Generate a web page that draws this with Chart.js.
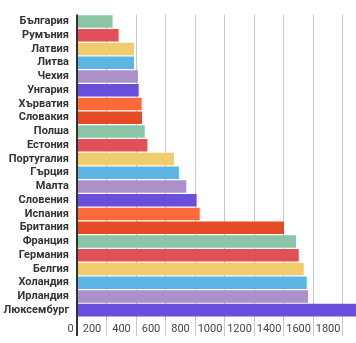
<!DOCTYPE html>
<html>
<head>
<meta charset="utf-8">
<script src="https://cdn.jsdelivr.net/npm/chart.js@4.4.1/dist/chart.umd.min.js"></script>
<style>
    body { margin: 0; background: #fff; }
    #chart { display: block; }
</style>
</head>
<body>
<canvas id="chart" width="356" height="343"></canvas>
<script>
// Countries, top to bottom
const countries = ['България', 'Румъния', 'Латвия', 'Литва', 'Чехия', 'Унгария', 'Хърватия', 'Словакия',
    'Полша', 'Естония', 'Португалия', 'Гърция', 'Малта', 'Словения', 'Испания', 'Британия',
    'Франция', 'Германия', 'Белгия', 'Холандия', 'Ирландия', 'Люксембург'];

const values = [241, 282, 386, 386, 413, 418, 438, 441, 459, 477, 657, 691, 741, 811, 832, 1403,
    1485, 1503, 1537, 1557, 1566, 1950];

const palette = ['#8cc5a6', '#df5057', '#f1cc6c', '#5db5e6', '#ab90c9', '#6a4fdc', '#ff6a3a', '#e64b26'];

const xTicks = [0, 200, 400, 600, 800, 1000, 1200, 1400, 1600, 1800];

const barColors = values.map((v, i) => palette[i % palette.length]);

const ctx = document.getElementById('chart').getContext('2d');
new Chart(ctx, {
    type: 'bar',
    data: {
        labels: countries,
        datasets: [{
            data: values,
            backgroundColor: barColors,
            borderWidth: 0,
            categoryPercentage: 0.91,
            barPercentage: 1
        }]
    },
    options: {
        indexAxis: 'y',
        responsive: false,
        animation: false,
        layout: { padding: { top: 14, right: 0, left: 0, bottom: 0 } },
        plugins: {
            legend: { display: false },
            tooltip: { enabled: false }
        },
        scales: {
            x: {
                min: 0,
                max: 1891,
                afterBuildTicks: scale => {
                    scale.ticks = xTicks.map(v => ({ value: v }));
                },
                afterFit: scale => { scale.height = 26; },
                border: { display: false },
                grid: {
                    color: c => c.tick && c.tick.value === 0 ? '#333' : '#c8c8c8',
                    lineWidth: c => c.tick && c.tick.value === 0 ? 2 : 1,
                    drawTicks: true,
                    tickLength: 19
                },
                ticks: {
                    padding: -13,
                    labelOffset: -14.5,
                    maxRotation: 0,
                    autoSkip: false,
                    color: '#444',
                    font: { family: 'Roboto', size: 11 },
                    callback: v => v === 0 ? '      0' : String(v)
                }
            },
            y: {
                afterFit: scale => { scale.width = 77; },
                border: { display: false },
                grid: { display: false, drawTicks: false },
                ticks: {
                    padding: 8,
                    autoSkip: false,
                    color: '#333',
                    font: { family: 'Roboto', size: 11, weight: 'bold' }
                }
            }
        }
    }
});
</script>
</body>
</html>
